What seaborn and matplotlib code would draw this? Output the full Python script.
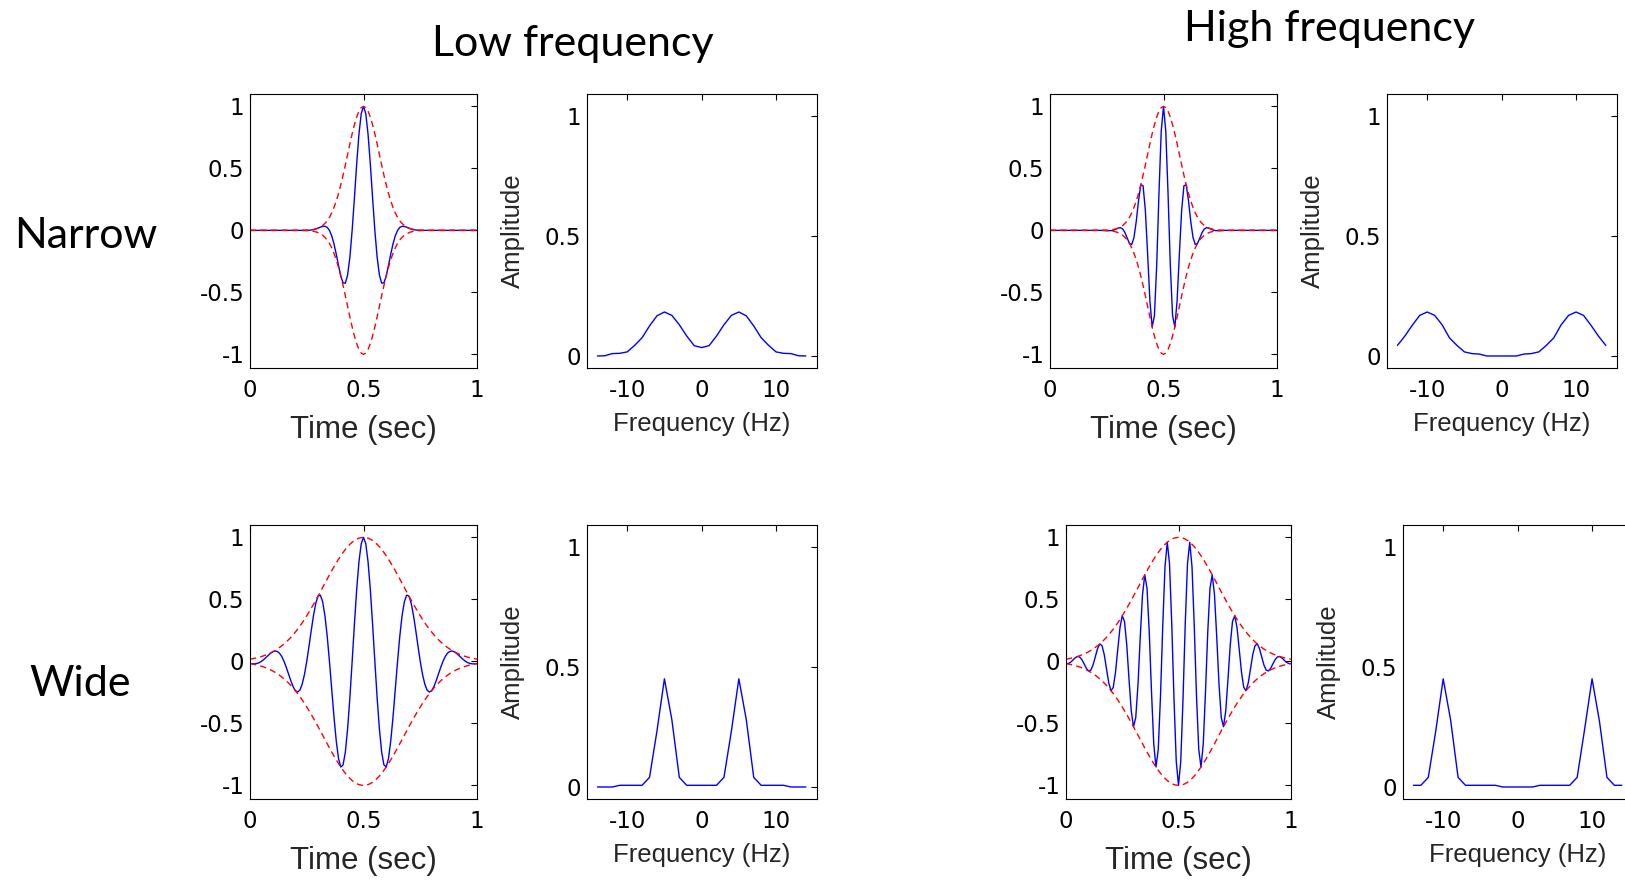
import numpy as np
import matplotlib
matplotlib.use("Agg")
import matplotlib.pyplot as plt
import seaborn as sns

# ---- sample grids -------------------------------------------------------
time_s = np.linspace(0.0, 1.0, 101)          # 0 : 0.01 : 1 s
freq_hz = np.arange(-14, 15)                  # -14 : 14 Hz

# ---- Gaussian envelopes (narrow / wide) --------------------------------
env_narrow = [
    0, 0, 0, 0, 0, 0, 0, 0, 0, 0,
    0, 0, 0, 0, 0, 0, 0, 0, 0, 0,
    0, 0, 0, 0.001, 0.001, 0.002, 0.003, 0.005, 0.008, 0.012,
    0.018, 0.027, 0.039, 0.056, 0.077, 0.105, 0.141, 0.185, 0.237, 0.298,
    0.368, 0.445, 0.527, 0.613, 0.698, 0.779, 0.852, 0.914, 0.961, 0.990,
    1.0,
    0.990, 0.961, 0.914, 0.852, 0.779, 0.698, 0.613, 0.527, 0.445, 0.368,
    0.298, 0.237, 0.185, 0.141, 0.105, 0.077, 0.056, 0.039, 0.027, 0.018,
    0.012, 0.008, 0.005, 0.003, 0.002, 0.001, 0.001, 0, 0, 0,
    0, 0, 0, 0, 0, 0, 0, 0, 0, 0,
    0, 0, 0, 0, 0, 0, 0, 0, 0, 0,
]
env_wide = [
    0.018, 0.021, 0.025, 0.029, 0.034, 0.039, 0.045, 0.052, 0.059, 0.068,
    0.077, 0.088, 0.099, 0.112, 0.126, 0.141, 0.157, 0.175, 0.194, 0.215,
    0.237, 0.260, 0.285, 0.311, 0.339, 0.368, 0.398, 0.429, 0.461, 0.494,
    0.527, 0.561, 0.595, 0.630, 0.664, 0.698, 0.731, 0.763, 0.794, 0.824,
    0.852, 0.878, 0.903, 0.925, 0.944, 0.961, 0.975, 0.986, 0.994, 0.998,
    1.0,
    0.998, 0.994, 0.986, 0.975, 0.961, 0.944, 0.925, 0.903, 0.878, 0.852,
    0.824, 0.794, 0.763, 0.731, 0.698, 0.664, 0.630, 0.595, 0.561, 0.527,
    0.494, 0.461, 0.429, 0.398, 0.368, 0.339, 0.311, 0.285, 0.260, 0.237,
    0.215, 0.194, 0.175, 0.157, 0.141, 0.126, 0.112, 0.099, 0.088, 0.077,
    0.068, 0.059, 0.052, 0.045, 0.039, 0.034, 0.029, 0.025, 0.021, 0.018,
]

# ---- wavelets in time ---------------------------------------------------
wave_low_narrow = [
    0, 0, 0, 0, 0, 0, 0, 0, 0, 0,
    0, 0, 0, 0, 0, 0, 0, 0, 0, 0,
    0, 0, 0, 0, 0, 0, 0.001, 0.003, 0.006, 0.011,
    0.018, 0.026, 0.032, 0.033, 0.024, 0.0, -0.044, -0.109, -0.192, -0.283,
    -0.368, -0.423, -0.426, -0.360, -0.216, 0.0, 0.263, 0.537, 0.777, 0.942,
    1.0,
    0.942, 0.777, 0.537, 0.263, 0.0, -0.216, -0.360, -0.426, -0.423, -0.368,
    -0.283, -0.192, -0.109, -0.044, 0.0, 0.024, 0.033, 0.032, 0.026, 0.018,
    0.011, 0.006, 0.003, 0.001, 0, 0, 0, 0, 0, 0,
    0, 0, 0, 0, 0, 0, 0, 0, 0, 0,
    0, 0, 0, 0, 0, 0, 0, 0, 0, 0,
]
wave_high_narrow = [
    0, 0, 0, 0, 0, 0, 0, 0, 0, 0,
    0, 0, 0, 0, 0, 0, 0, 0, 0, 0,
    0, 0, 0, 0, -0.001, -0.002, -0.002, -0.002, 0.002, 0.010,
    0.018, 0.022, 0.012, -0.017, -0.062, -0.105, -0.114, -0.057, 0.073, 0.241,
    0.368, 0.360, 0.163, -0.189, -0.565, -0.779, -0.689, -0.282, 0.297, 0.801,
    1.0,
    0.801, 0.297, -0.282, -0.689, -0.779, -0.565, -0.189, 0.163, 0.360, 0.368,
    0.241, 0.073, -0.057, -0.114, -0.105, -0.062, -0.017, 0.012, 0.022, 0.018,
    0.010, 0.002, -0.002, -0.002, -0.002, -0.001, 0, 0, 0, 0,
    0, 0, 0, 0, 0, 0, 0, 0, 0, 0,
    0, 0, 0, 0, 0, 0, 0, 0, 0, 0,
]
wave_low_wide = [
    -0.018, -0.020, -0.020, -0.017, -0.011, 0.0, 0.014, 0.031, 0.048, 0.065,
    0.077, 0.084, 0.080, 0.066, 0.039, 0.0, -0.049, -0.103, -0.157, -0.204,
    -0.237, -0.247, -0.231, -0.183, -0.105, 0.0, 0.123, 0.252, 0.373, 0.470,
    0.527, 0.534, 0.481, 0.370, 0.205, 0.0, -0.226, -0.449, -0.642, -0.784,
    -0.852, -0.835, -0.731, -0.544, -0.292, 0.0, 0.301, 0.580, 0.804, 0.949,
    1.0,
    0.949, 0.804, 0.580, 0.301, 0.0, -0.292, -0.544, -0.731, -0.835, -0.852,
    -0.784, -0.642, -0.449, -0.226, 0.0, 0.205, 0.370, 0.481, 0.534, 0.527,
    0.470, 0.373, 0.252, 0.123, 0.0, -0.105, -0.183, -0.231, -0.247, -0.237,
    -0.204, -0.157, -0.103, -0.049, 0.0, 0.039, 0.066, 0.080, 0.084, 0.077,
    0.065, 0.048, 0.031, 0.014, 0.0, -0.011, -0.017, -0.020, -0.020, -0.018,
]
wave_high_wide = [
    -0.018, -0.017, -0.008, 0.009, 0.028, 0.039, 0.036, 0.016, -0.018, -0.055,
    -0.077, -0.071, -0.031, 0.035, 0.102, 0.141, 0.127, 0.054, -0.060, -0.174,
    -0.237, -0.210, -0.088, 0.096, 0.274, 0.368, 0.322, 0.133, -0.142, -0.400,
    -0.527, -0.454, -0.184, 0.195, 0.537, 0.698, 0.591, 0.236, -0.245, -0.667,
    -0.852, -0.710, -0.279, 0.286, 0.764, 0.961, 0.789, 0.305, -0.307, -0.807,
    -1.0,
    -0.807, -0.307, 0.305, 0.789, 0.961, 0.764, 0.286, -0.279, -0.710, -0.852,
    -0.667, -0.245, 0.236, 0.591, 0.698, 0.537, 0.195, -0.184, -0.454, -0.527,
    -0.400, -0.142, 0.133, 0.322, 0.368, 0.274, 0.096, -0.088, -0.210, -0.237,
    -0.174, -0.060, 0.054, 0.127, 0.141, 0.102, 0.035, -0.031, -0.071, -0.077,
    -0.055, -0.018, 0.016, 0.036, 0.039, 0.028, 0.009, -0.008, -0.017, -0.018,
]

# ---- amplitude spectra, -14 .. 14 Hz -----------------------------------
amp_low_narrow = [0.0, 0.001, 0.010, 0.011, 0.017, 0.044, 0.076, 0.125, 0.167, 0.183,
                  0.169, 0.130, 0.083, 0.043, 0.035, 0.043, 0.083, 0.130, 0.169, 0.183,
                  0.167, 0.125, 0.076, 0.044, 0.017, 0.011, 0.010, 0.001, 0.0]
amp_high_narrow = [0.044, 0.083, 0.128, 0.169, 0.183, 0.169, 0.130, 0.075, 0.044, 0.017,
                   0.010, 0.008, 0.0, 0.0, 0.0, 0.0, 0.0, 0.008, 0.010, 0.017,
                   0.044, 0.075, 0.130, 0.169, 0.183, 0.169, 0.128, 0.083, 0.044]
amp_low_wide = [0.0, 0.0, 0.0, 0.007, 0.007, 0.007, 0.007, 0.040, 0.233, 0.450,
                0.280, 0.040, 0.007, 0.007, 0.007, 0.007, 0.007, 0.040, 0.233, 0.450,
                0.280, 0.040, 0.007, 0.007, 0.007, 0.007, 0.0, 0.0, 0.0]
amp_high_wide = [0.007, 0.007, 0.040, 0.233, 0.450, 0.278, 0.040, 0.007, 0.007, 0.007,
                 0.007, 0.007, 0.0, 0.0, 0.0, 0.0, 0.0, 0.007, 0.007, 0.007,
                 0.007, 0.007, 0.040, 0.240, 0.450, 0.272, 0.040, 0.007, 0.007]

# ---- ticks and labels ---------------------------------------------------
time_ticks = [0, 0.5, 1]
time_tick_labels = ["0", "0.5", "1"]
wave_ticks = [-1, -0.5, 0, 0.5, 1]
wave_tick_labels = ["-1", "-0.5", "0", "0.5", "1"]
freq_ticks = [-10, 0, 10]
freq_tick_labels = ["-10", "0", "10"]
amp_ticks = [0, 0.5, 1]
amp_tick_labels = ["0", "0.5", "1"]

column_titles = ["Low frequency", "High frequency"]
row_titles = ["Narrow", "Wide"]

# ---- style --------------------------------------------------------------
sns.set_theme(style="white")
plt.rcParams["font.family"] = ["Liberation Sans", "DejaVu Sans"]
plt.rcParams["axes.edgecolor"] = "black"
plt.rcParams["axes.linewidth"] = 0.8

W, H = 1625, 880
fig = plt.figure(figsize=(W / 100, H / 100), dpi=100)

TICK_FONT = dict(family=["DejaVu Sans"], size=16.5)


def px_axes(x0, y0, x1, y1):
    return fig.add_axes([x0 / W, 1 - y1 / H, (x1 - x0) / W, (y1 - y0) / H])


def style_axes(ax):
    ax.tick_params(direction="in", length=4.5, width=0.8, top=True, right=True,
                   colors="black")
    ax.tick_params(axis="x", pad=8)
    ax.tick_params(axis="y", pad=4)
    for lab in ax.get_xticklabels() + ax.get_yticklabels():
        lab.set_fontfamily(TICK_FONT["family"])
        lab.set_fontsize(TICK_FONT["size"])
    for s in ax.spines.values():
        s.set_visible(True)
        s.set_color("black")
        s.set_linewidth(0.8)


def time_panel(box, wave, env):
    ax = px_axes(*box)
    sns.lineplot(x=time_s, y=wave, ax=ax, color="#0000ff", linewidth=1.0)
    sns.lineplot(x=time_s, y=env, ax=ax, color="#ff0000", linewidth=1.0,
                 linestyle=(0, (4.5, 3.0)))
    sns.lineplot(x=time_s, y=[-v for v in env], ax=ax, color="#ff0000",
                 linewidth=1.0, linestyle=(0, (4.5, 3.0)))
    ax.set_xlim(0, 1)
    ax.set_ylim(-1.11, 1.1)
    ax.set_xticks(time_ticks, time_tick_labels)
    ax.set_yticks(wave_ticks, wave_tick_labels)
    ax.set_xlabel("Time (sec)", fontsize=22.5)
    ax.xaxis.label.set_va("center")
    ax.xaxis.set_label_coords(0.5, -62 / 274)
    ax.set_ylabel("")
    style_axes(ax)
    return ax


def spec_panel(box, amp):
    ax = px_axes(*box)
    sns.lineplot(x=freq_hz, y=amp, ax=ax, color="#0000ff", linewidth=1.0)
    ax.set_xlim(-15.4, 15.5)
    ax.set_ylim(-0.05, 1.09)
    ax.set_xticks(freq_ticks, freq_tick_labels)
    ax.set_yticks(amp_ticks, amp_tick_labels)
    ax.set_xlabel("Frequency (Hz)", fontsize=18.5)
    ax.xaxis.label.set_va("center")
    ax.xaxis.set_label_coords(0.5, -56 / 274)
    ax.set_ylabel("Amplitude", fontsize=18.5)
    ax.yaxis.label.set_va("center")
    ax.yaxis.set_label_coords(-74 / 230, 0.5)
    style_axes(ax)
    return ax


# top row: narrow envelope
time_panel((250, 94, 477, 368), wave_low_narrow, env_narrow)
spec_panel((587, 94, 817, 368), amp_low_narrow)
time_panel((1050, 94, 1277, 368), wave_high_narrow, env_narrow)
spec_panel((1387, 94, 1617, 368), amp_high_narrow)

# bottom row: wide envelope
time_panel((250, 525, 477, 799), wave_low_wide, env_wide)
spec_panel((587, 525, 817, 799), amp_low_wide)
time_panel((1066, 525, 1291, 799), wave_high_wide, env_wide)
spec_panel((1403, 525, 1633, 799), amp_high_wide)

# column and row headings
big = dict(family=["Lato", "DejaVu Sans"], fontsize=31, color="black",
           ha="center", va="center")
fig.text(573 / W, 1 - 44 / H, column_titles[0], **big)
fig.text(1329 / W, 1 - 29 / H, column_titles[1], **big)
fig.text(86 / W, 1 - 236 / H, row_titles[0], **big)
fig.text(80 / W, 1 - 684 / H, row_titles[1], **big)

fig.savefig("out.png", dpi=100, facecolor="white")
